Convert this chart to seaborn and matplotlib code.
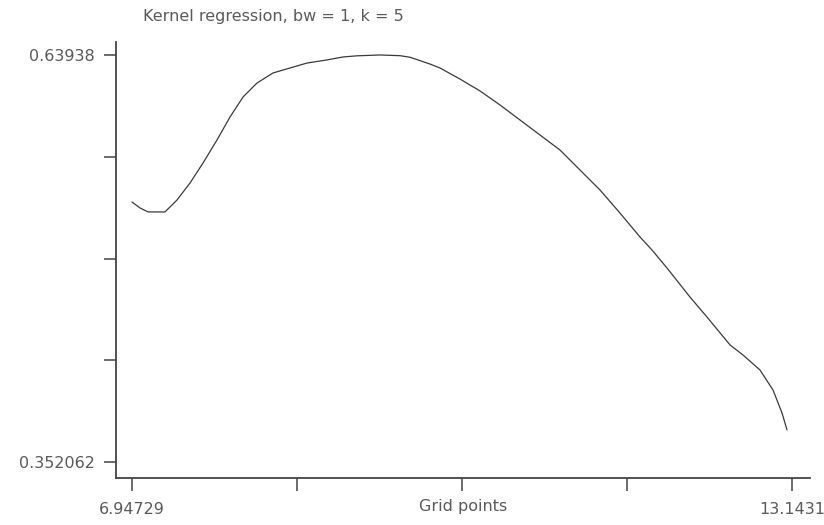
import matplotlib
matplotlib.use("Agg")
import matplotlib.pyplot as plt
import seaborn as sns
import pandas as pd

# Kernel regression estimate evaluated on the grid
grid_x = [6.94729, 7.0224, 7.0975, 7.2571, 7.3697, 7.4918, 7.6138, 7.7452,
          7.8673, 7.9893, 8.1208, 8.2710, 8.4305, 8.5901, 8.7779, 8.9281,
          9.0595, 9.2754, 9.4632, 9.5571, 9.7448, 9.8387, 10.0264, 10.2142,
          10.4019, 10.5897, 10.7774, 10.9652, 11.1529, 11.3407, 11.5284,
          11.7162, 11.8289, 11.9697, 12.1856, 12.3452, 12.5611, 12.6831,
          12.8427, 12.9648, 13.0492, 13.0962]
fit_y = [0.5356, 0.5314, 0.5286, 0.5286, 0.5370, 0.5490, 0.5631, 0.5794,
         0.5956, 0.6097, 0.6196, 0.6267, 0.6302, 0.6337, 0.6359, 0.6380,
         0.6388, 0.6394, 0.6389, 0.6378, 0.6330, 0.6302, 0.6224, 0.6140,
         0.6041, 0.5935, 0.5829, 0.5723, 0.5582, 0.5441, 0.5278, 0.5109,
         0.5017, 0.4890, 0.4685, 0.4544, 0.4347, 0.4276, 0.4170, 0.4029,
         0.3867, 0.3747]

x_min, x_max = 6.94729, 13.1431
y_min, y_max = 0.352062, 0.63938
x_tick_labels = ["6.94729", "", "", "", "13.1431"]
y_tick_labels = ["0.352062", "", "", "", "0.63938"]
title = "Kernel regression, bw = 1, k = 5"
x_label = "Grid points"

df = pd.DataFrame({"x": grid_x, "y": fit_y})

sns.set_style("ticks")
plt.rcParams["font.family"] = ["DejaVu Sans"]

W, H = 824, 525
fig = plt.figure(figsize=(W / 100, H / 100), dpi=100)
ax = fig.add_axes([116 / W, 1 - 478 / H, (810 - 116) / W, (478 - 42) / H])

sns.lineplot(data=df, x="x", y="y", ax=ax, color="#3a3a3a", linewidth=0.9,
             estimator=None, sort=False)

# pad the data ranges a little so the end ticks sit inside the spines
dx = (x_max - x_min) / 660
dy = (y_max - y_min) / 407
ax.set_xlim(x_min - 16 * dx, x_min + 678 * dx)
ax.set_ylim(y_min - 16 * dy, y_max + 13 * dy)

step_x = (x_max - x_min) / 4
step_y = (y_max - y_min) / 4
ax.set_xticks([x_min + i * step_x for i in range(5)])
ax.set_yticks([y_min + i * step_y for i in range(5)])
txt_color = "#5a5a5a"
ax.set_xticklabels(x_tick_labels, fontsize=11.5, color=txt_color)
ax.set_yticklabels(y_tick_labels, fontsize=11.5, color=txt_color)
ax.tick_params(axis="both", length=9, width=1.1, color="#444444", pad=6)
ax.tick_params(axis="x", pad=8)

for side in ("top", "right"):
    ax.spines[side].set_visible(False)
for side in ("left", "bottom"):
    ax.spines[side].set_color("#444444")
    ax.spines[side].set_linewidth(1.3)

ax.set_xlabel(x_label, fontsize=11.5, color=txt_color)
ax.xaxis.set_label_coords(0.5, -0.048)
ax.xaxis.label.set_verticalalignment("top")
ax.set_ylabel("")

fig.text(143 / W, 1 - 17 / H, title, ha="left", va="center",
         fontsize=11.5, color=txt_color)

fig.savefig("out.png", dpi=100, facecolor="white")
